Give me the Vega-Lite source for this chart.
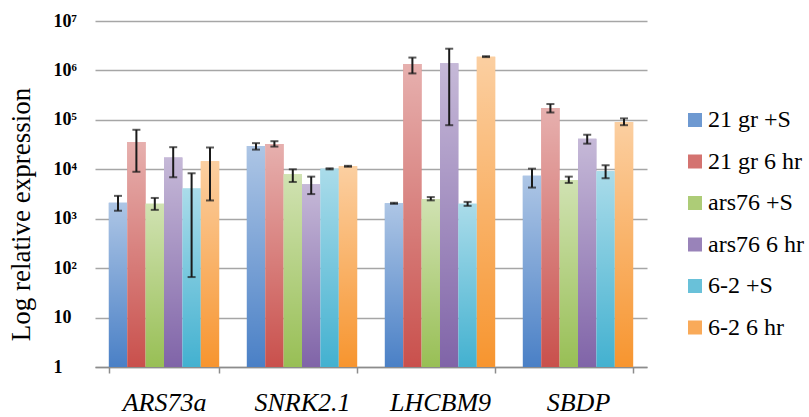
{
  "$schema": "https://vega.github.io/schema/vega-lite/v6.json",
  "width": 552,
  "height": 346,
  "autosize": {"type": "none"},
  "padding": {"left": 95, "top": 21, "right": 162, "bottom": 50},
  "background": "white",
  "config": {
    "view": {"stroke": null},
    "font": "Liberation Serif, Times New Roman, serif"
  },
  "data": {
    "values": [
      {"gene": "ARS73a", "series": "21 gr +S", "value": 2100, "lo": 1450, "hi": 2900},
      {"gene": "ARS73a", "series": "21 gr 6 hr", "value": 35700, "lo": 8900, "hi": 63000},
      {"gene": "ARS73a", "series": "ars76 +S", "value": 2000, "lo": 1510, "hi": 2630},
      {"gene": "ARS73a", "series": "ars76 6 hr", "value": 17300, "lo": 6900, "hi": 28000},
      {"gene": "ARS73a", "series": "6-2 +S", "value": 4100, "lo": 66, "hi": 8300},
      {"gene": "ARS73a", "series": "6-2 6 hr", "value": 14600, "lo": 2340, "hi": 27600},
      {"gene": "SNRK2.1", "series": "21 gr +S", "value": 29700, "lo": 25000, "hi": 33800},
      {"gene": "SNRK2.1", "series": "21 gr 6 hr", "value": 32600, "lo": 28800, "hi": 37000},
      {"gene": "SNRK2.1", "series": "ars76 +S", "value": 7900, "lo": 5540, "hi": 10000},
      {"gene": "SNRK2.1", "series": "ars76 6 hr", "value": 5000, "lo": 3150, "hi": 7100},
      {"gene": "SNRK2.1", "series": "6-2 +S", "value": 10200, "lo": 9950, "hi": 10450},
      {"gene": "SNRK2.1", "series": "6-2 6 hr", "value": 11500, "lo": 11250, "hi": 11750},
      {"gene": "LHCBM9", "series": "21 gr +S", "value": 2050, "lo": 2000, "hi": 2100},
      {"gene": "LHCBM9", "series": "21 gr 6 hr", "value": 1350000, "lo": 870000, "hi": 1820000},
      {"gene": "LHCBM9", "series": "ars76 +S", "value": 2470, "lo": 2350, "hi": 2740},
      {"gene": "LHCBM9", "series": "ars76 6 hr", "value": 1400000, "lo": 78000, "hi": 2750000},
      {"gene": "LHCBM9", "series": "6-2 +S", "value": 2000, "lo": 1820, "hi": 2190},
      {"gene": "LHCBM9", "series": "6-2 6 hr", "value": 1900000, "lo": 1860000, "hi": 1940000},
      {"gene": "SBDP", "series": "21 gr +S", "value": 7400, "lo": 4270, "hi": 10300},
      {"gene": "SBDP", "series": "21 gr 6 hr", "value": 174000, "lo": 141000, "hi": 209000},
      {"gene": "SBDP", "series": "ars76 +S", "value": 6000, "lo": 5300, "hi": 7100},
      {"gene": "SBDP", "series": "ars76 6 hr", "value": 41300, "lo": 33000, "hi": 50000},
      {"gene": "SBDP", "series": "6-2 +S", "value": 9100, "lo": 6600, "hi": 12000},
      {"gene": "SBDP", "series": "6-2 6 hr", "value": 91000, "lo": 78000, "hi": 107000}
    ]
  },
  "encoding": {
    "x": {
      "field": "gene",
      "type": "nominal",
      "sort": ["ARS73a", "SNRK2.1", "LHCBM9", "SBDP"],
      "scale": {"paddingInner": 0.2, "paddingOuter": 0.1},
      "axis": {
        "title": null,
        "labelAngle": 0,
        "labelFont": "Liberation Serif, Times New Roman, serif",
        "labelFontStyle": "italic",
        "labelFontSize": 26,
        "labelColor": "#000000",
        "labelPadding": 16,
        "tickBand": "extent",
        "tickSize": 6,
        "tickColor": "#8c8c8c",
        "tickWidth": 1.5,
        "domainColor": "#8c8c8c",
        "domainWidth": 1.5,
        "grid": false
      }
    },
    "xOffset": {
      "field": "series",
      "type": "nominal",
      "sort": ["21 gr +S", "21 gr 6 hr", "ars76 +S", "ars76 6 hr", "6-2 +S", "6-2 6 hr"],
      "scale": {"paddingInner": 0, "paddingOuter": 0}
    }
  },
  "layer": [
    {
      "mark": {"type": "bar"},
      "encoding": {
        "y": {
          "field": "value",
          "type": "quantitative",
          "scale": {"type": "log", "domain": [1, 10000000], "nice": false},
          "axis": {
            "title": "Log relative expression",
            "titleFont": "Liberation Serif, Times New Roman, serif",
            "titleFontWeight": "normal",
            "titleFontSize": 27,
            "titleColor": "#000000",
            "titleX": -66,
            "titleY": 193,
            "titleAngle": -90,
            "titleAlign": "center",
            "titleBaseline": "alphabetic",
            "values": [1, 10, 100, 1000, 10000, 100000, 1000000, 10000000],
            "labelExpr": "datum.value < 5 ? '1' : datum.value < 50 ? '10' : '10' + ['','','²','³','⁴','⁵','⁶','⁷'][round(log(datum.value)/LN10)]",
            "labelFont": "Liberation Serif, Times New Roman, serif",
            "labelFontWeight": "bold",
            "labelFontSize": 18,
            "labelColor": "#000000",
            "labelAlign": "left",
            "labelBaseline": "middle",
            "labelPadding": 42,
            "ticks": false,
            "domain": false,
            "grid": true,
            "gridColor": "#a6a6a6",
            "gridWidth": 1.5
          }
        },
        "y2": {"datum": 1},
        "color": {
          "field": "series",
          "type": "nominal",
          "sort": ["21 gr +S", "21 gr 6 hr", "ars76 +S", "ars76 6 hr", "6-2 +S", "6-2 6 hr"],
          "scale": {"range": ["#4a80c6", "#c9504c", "#98bf55", "#8064a8", "#43b1d0", "#f7952f"]},
          "legend": {
            "title": null,
            "orient": "none",
            "legendX": 588,
            "legendY": 87,
            "symbolType": "square",
            "symbolSize": 196,
            "symbolStrokeWidth": 0,
            "symbolOpacity": 0.8,
            "labelFont": "Liberation Serif, Times New Roman, serif",
            "labelFontSize": 24,
            "labelColor": "#000000",
            "labelOffset": 1,
            "rowPadding": 17.5,
            "padding": 0,
            "labelLimit": 200
          }
        }
      }
    },
    {
      "mark": {
        "type": "bar",
        "fill": {
          "gradient": "linear",
          "x1": 0, "y1": 0, "x2": 0, "y2": 1,
          "stops": [
            {"offset": 0, "color": "rgba(255,255,255,0.55)"},
            {"offset": 1, "color": "rgba(255,255,255,0)"}
          ]
        }
      },
      "encoding": {
        "y": {"field": "value", "type": "quantitative"},
        "y2": {"datum": 1}
      }
    },
    {
      "mark": {"type": "rule", "color": "#1a1a1a", "strokeWidth": 2},
      "encoding": {
        "y": {"field": "lo", "type": "quantitative"},
        "y2": {"field": "hi"}
      }
    },
    {
      "mark": {"type": "tick", "color": "#1a1a1a", "thickness": 2, "size": 8},
      "encoding": {
        "y": {"field": "lo", "type": "quantitative"}
      }
    },
    {
      "mark": {"type": "tick", "color": "#1a1a1a", "thickness": 2, "size": 8},
      "encoding": {
        "y": {"field": "hi", "type": "quantitative"}
      }
    }
  ]
}
